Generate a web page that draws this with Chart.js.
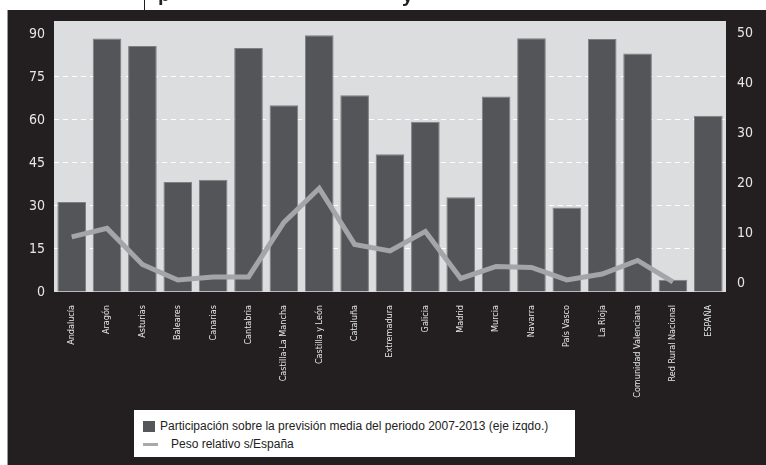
<!DOCTYPE html>
<html>
<head>
<meta charset="utf-8">
<script src="https://cdn.jsdelivr.net/npm/chart.js@4/dist/chart.umd.min.js"></script>
<style>
  html,body{margin:0;padding:0;background:#fff;}
  #wrap{position:relative;width:766px;height:465px;overflow:hidden;}
  #c{position:absolute;left:0;top:0;}
  #legend{position:absolute;left:134px;top:410px;width:441px;height:47px;background:#fff;
    font-family:"Liberation Sans",Arial,sans-serif;font-size:12px;color:#222;}
  #legend .row{position:absolute;left:9px;display:flex;align-items:center;white-space:nowrap;}
  #legend .sq{width:12px;height:11px;background:#555659;margin-right:5px;}
  #legend .ln{width:15px;height:3px;background:#a7a9ac;margin-right:13px;}
</style>
</head>
<body>
<div id="wrap">
  <canvas id="c" width="766" height="465"></canvas>
  <div id="legend">
    <div class="row" style="top:9px"><span class="sq"></span>Participación sobre la previsión media del periodo 2007-2013 (eje izqdo.)</div>
    <div class="row" style="top:27px"><span class="ln"></span>Peso relativo s/España</div>
  </div>
</div>
<script>
const categories = ['Andalucía','Aragón','Asturias','Baleares','Canarias','Cantabria','Castilla-La Mancha','Castilla y León','Cataluña','Extremadura','Galicia','Madrid','Murcia','Navarra','País Vasco','La Rioja','Comunidad Valenciana','Red Rural Nacional','ESPAÑA'];
const participacion = [31.4, 88.4, 85.8, 38.4, 39.1, 85.1, 65.1, 89.5, 68.6, 48.0, 59.4, 33.0, 68.2, 88.5, 29.5, 88.2, 83.2, 4.3, 61.5];
const pesoRelativo = [9.3, 11.0, 3.8, 0.7, 1.3, 1.3, 12.2, 19.0, 7.8, 6.5, 10.4, 1.0, 3.4, 3.2, 0.7, 1.9, 4.6, 0.3, null];
const leftTicks = [0, 15, 30, 45, 60, 75, 90];
const rightTicks = [0, 10, 20, 30, 40, 50];

const narrow = '"Liberation Sans Narrow","DejaVu Sans Condensed",Arial,sans-serif';

const frame = {
  id:'frame',
  beforeDraw(chart){
    const {ctx, chartArea:a, width, height} = chart;
    ctx.save();
    ctx.fillStyle = '#fff'; ctx.fillRect(0,0,width,height);
    ctx.fillStyle = '#231f20'; ctx.fillRect(7,10,width-7,height-10);
    ctx.fillStyle = '#9a9a9a'; ctx.fillRect(7,10,1,height-10);
    ctx.fillStyle = '#dcdddf'; ctx.fillRect(a.left,a.top,a.right-a.left,a.bottom-a.top);
    // fragments of the cut-off heading above the frame
    ctx.fillStyle = '#231f20'; ctx.fillRect(144,0,1,10);
    ctx.font = 'bold 20px "Liberation Sans",Arial,sans-serif';
    ctx.textBaseline = 'alphabetic';
    ctx.fillText('p', 158, 1);
    ctx.fillText('y', 402, 2);
    ctx.restore();
  }
};

new Chart(document.getElementById('c'), {
  data:{
    labels: categories,
    datasets:[
      {type:'line', label:'Peso relativo s/España', data: pesoRelativo, yAxisID:'yR',
       borderColor:'#a3a5a8', borderWidth:5, pointRadius:0, tension:0, order:0, spanGaps:false},
      {type:'bar', label:'Participación sobre la previsión media del periodo 2007-2013 (eje izqdo.)', data: participacion, yAxisID:'yL',
       backgroundColor:'#545558', borderColor:'#7e8083', borderWidth:1, barPercentage:0.81, categoryPercentage:1, order:1}
    ]
  },
  options:{
    responsive:false, animation:false,
    layout:{padding:{top:21,left:0,right:0,bottom:0}},
    plugins:{legend:{display:false}, tooltip:{enabled:false}},
    scales:{
      x:{
        grid:{display:false}, border:{display:false},
        ticks:{color:'#e6e6e6', font:{family:narrow,size:9}, minRotation:90, maxRotation:90, autoSkip:false, padding:5},
        afterFit(s){ s.height = 173; }
      },
      yL:{
        position:'left', min:0, max:94.5,
        afterBuildTicks(s){ s.ticks = leftTicks.map(v=>({value:v})); },
        grid:{drawTicks:false, lineWidth:1,
          color:(c)=> (c.tick && (c.tick.value===0 || c.tick.value===90)) ? 'rgba(0,0,0,0)' : '#ffffff'},
        border:{display:false, dash:[5,4]},
        ticks:{color:'#e6e6e6', font:{family:narrow,size:14}, padding:9},
        afterFit(s){ s.width = 54; }
      },
      yR:{
        position:'right', min:-1.7, max:52.4,
        afterBuildTicks(s){ s.ticks = rightTicks.map(v=>({value:v})); },
        grid:{display:false, drawTicks:false}, border:{display:false},
        ticks:{color:'#e6e6e6', font:{family:narrow,size:14}, padding:11},
        afterFit(s){ s.width = 40; }
      }
    }
  },
  plugins:[frame]
});
</script>
</body>
</html>
